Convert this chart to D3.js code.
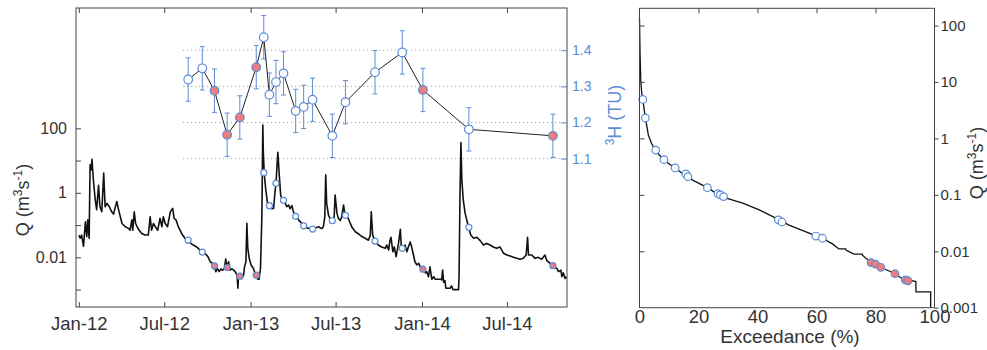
<!DOCTYPE html>
<html>
<head>
<meta charset="utf-8">
<script src="https://cdn.jsdelivr.net/npm/d3@7"></script>
<style>
  body { margin: 0; background: #fff; }
  text { font-family: "Liberation Sans", Arial, sans-serif; fill: #333; }
</style>
</head>
<body>
<script>
// daily discharge (days since 2012-01-01, m3/s)
const flowStart = "2012-01-01";
const flowDay = [
  0,3,6,10,14,17,19,22,24,26,28,31,35,38,42,45,49,53,56,60,65,70,74,77,81,84,92,99,106,109,113,115,118,121,127,134,141,148,152,155,159,163,168,173,177,180,184,189,195,200,203,207,212,219,226,231,237,244,251,
  262,269,275,280,285,288,292,295,299,303,306,310,313,315,319,322,326,330,333,337,339,340,347,351,353,356,358,360,363,367,372,376,381,384,387,390,392,393,395,398,402,405,411,415,418,420,424,427,430,434,440,443,447,450,454,457,461,464,469,475,479,486,493,499,505,511,515,
  518,521,524,526,528,532,535,540,544,546,550,553,557,560,564,567,574,582,589,596,603,610,617,621,623,626,631,638,645,653,656,660,663,665,669,672,676,681,685,687,690,695,699,702,706,709,713,716,720,724,729,734,738,741,745,748,752,756,759,766,771,
  773,775,777,780,782,791,794,797,809,810,812,814,816,819,823,830,835,841,848,855,862,869,876,883,890,897,905,912,919,926,933,940,947,953,956,958,965,972,979,986,993,997,1004,1011,1018,1022,1027,1029,1032,1036,1039
];
const flowQ = [
  0.049,0.039,0.049,0.022,0.126,0.044,0.145,0.039,7.4,5.1,11,2.5,0.60,0.30,1.7,0.37,0.26,4.1,0.37,0.47,0.37,0.26,0.22,0.33,0.54,0.33,0.112,0.089,0.079,0.069,0.145,0.069,0.26,0.112,0.074,0.055,0.049,0.049,0.18,0.069,0.112,0.089,0.069,0.162,0.089,0.18,0.112,0.089,0.26,0.33,0.162,0.145,0.089,0.055,0.039,0.034,0.028,0.024,0.021,
  0.0149,0.0132,0.0105,0.0073,0.0065,0.0055,0.0036,0.0045,0.0036,0.0044,0.0040,0.0044,0.0089,0.0048,0.0073,0.0040,0.0044,0.0040,0.0036,0.0028,0.0011,0.0025,0.0022,0.0028,0.0051,0.0073,0.113,0.019,0.0093,0.0058,0.0045,0.0030,0.0021,0.0021,0.0045,0.20,126,19,4.0,1.37,0.47,0.42,0.32,0.33,1.08,1.96,18,3.6,0.85,0.58,0.47,0.37,0.42,0.32,0.40,0.26,0.20,0.18,0.14,0.113,0.095,0.083,0.075,0.074,0.083,0.089,0.080,
  0.079,0.089,0.18,3.6,0.47,0.20,0.16,0.137,0.18,0.85,0.23,0.16,0.14,0.18,0.42,0.195,0.16,0.085,0.062,0.053,0.044,0.039,0.034,0.049,0.26,0.049,0.033,0.024,0.021,0.019,0.024,0.017,0.034,0.042,0.0149,0.021,0.0105,0.027,0.074,0.021,0.019,0.024,0.0149,0.021,0.030,0.021,0.0118,0.0073,0.0058,0.0065,0.0045,0.0051,0.0033,0.0036,0.0025,0.0051,0.0021,0.0025,0.0021,0.0021,0.0021,
  0.0020,0.0040,0.0017,0.0019,0.0011,0.0011,0.0013,0.0010,0.0010,0.0025,0.76,36,2.5,0.60,0.23,0.089,0.049,0.039,0.042,0.033,0.024,0.027,0.024,0.021,0.019,0.021,0.0133,0.0118,0.0110,0.0100,0.0093,0.0087,0.0093,0.0118,0.042,0.0118,0.0118,0.0093,0.0100,0.0087,0.0118,0.0079,0.0065,0.0051,0.0046,0.0036,0.0040,0.0025,0.0033,0.0022,0.0025
];

// tritium samples
const sampleDate = ["2012-08-21","2012-09-20","2012-10-16","2012-11-12","2012-12-09","2013-01-13","2013-01-29","2013-02-10","2013-02-24","2013-03-12",
  "2013-04-07","2013-04-24","2013-05-13","2013-06-24","2013-07-22","2013-09-23","2013-11-20","2014-01-03","2014-04-11","2014-10-07"];
const sampleQ = [0.034,0.0146,0.0054,0.0048,0.0026,0.0028,4.2,0.40,1.97,0.585,0.187,0.095,0.075,0.136,0.20,0.032,0.019,0.0043,0.085,0.0055];
const tritium = [1.319,1.350,1.288,1.166,1.214,1.353,1.436,1.277,1.312,1.336,1.232,1.243,1.263,1.163,1.256,1.339,1.394,1.290,1.181,1.163];
const tritiumErr = [0.06,0.06,0.06,0.06,0.06,0.06,0.06,0.06,0.06,0.06,0.06,0.06,0.06,0.06,0.06,0.06,0.06,0.06,0.06,0.06];
const sampleLow = [0,0,1,1,1,1,0,0,0,0,0,0,0,0,0,0,0,1,0,1];

// flow duration curve
const fdcExceed = [0,0.2,0.45,0.8,1.1,2.0,3.0,4.1,5.3,8.1,12.0,16.4,18.2,23.0,26.5,29.4,35.0,40.6,47.4,50.7,57.5,62.0,65.4,67.6,69.9,70.0,72.7,75.5,75.6,76.6,80.0,83.3,86.7,88.9,93.7,93.7,98.7,98.7];
const fdcQ = [134,30,10,6.0,4.9,2.3,1.15,0.81,0.62,0.42,0.30,0.205,0.18,0.134,0.103,0.087,0.071,0.054,0.036,0.029,0.021,0.017,0.0135,0.011,0.011,0.0105,0.0089,0.0089,0.0085,0.0076,0.0058,0.0048,0.0040,0.0033,0.0029,0.0019,0.0019,0.001];
const fdcSampleExceed = [1.1,2.0,5.5,8.3,12.1,15.7,16.4,23.0,26.6,27.4,28.5,47.1,48.3,59.8,62.0,78.5,80.0,81.8,86.6,90.1,91.0];
const fdcSampleQ = [4.9,2.3,0.62,0.42,0.30,0.235,0.21,0.134,0.105,0.100,0.093,0.036,0.033,0.0186,0.017,0.0063,0.0059,0.0052,0.0040,0.0031,0.0030];
const fdcSampleLow = [0,0,0,0,0,0,0,0,0,0,0,0,0,0,0,1,1,1,1,1,1];

// ticks
const dateTicks = ["2012-01-01","2012-07-01","2013-01-01","2013-07-01","2014-01-01","2014-07-01"];
const qTicks = [0.001,0.01,0.1,1,10,100];
const qLabels = ["","0.01","","1","","100"];
const tuTicks = [1.1,1.2,1.3,1.4];
const exTicks = [0,20,40,60,80,100];
const fdcQTicks = [0.001,0.01,0.1,1,10,100];
const fdcQLabels = ["0.001","0.01","0.1","1","10","100"];

const blue = "#5b8cd6", red = "#f07c7c", frame = "#444";
const parse = d3.timeParse("%Y-%m-%d");

const svg = d3.select("body").append("svg")
  .attr("width", 987)
  .attr("height", 350);

// ---- left panel ----
const x = d3.scaleTime().domain([parse("2011-12-26"), parse("2014-11-06")]).range([76, 567]);
const yQ = d3.scaleLog().domain([Math.pow(10, -3.54), Math.pow(10, 5.73)]).range([307, 8]);
const yT = d3.scaleLinear().domain([0.689, 1.517]).range([307, 8]);

const flow = flowDay.map((d, i) => ({ date: d3.timeDay.offset(parse(flowStart), d), q: flowQ[i] }));
const samples = sampleDate.map((d, i) => ({
  date: parse(d), q: sampleQ[i], t: tritium[i], e: tritiumErr[i], low: sampleLow[i]
}));

// dotted tritium grid
const gx0 = x(samples[0].date) - 5;
svg.append("g").selectAll("line")
  .data(tuTicks)
  .join("line")
  .attr("x1", gx0).attr("x2", 567)
  .attr("y1", d => yT(d)).attr("y2", d => yT(d))
  .attr("stroke", "#999").attr("stroke-width", 1).attr("stroke-dasharray", "1,3");

svg.append("path")
  .datum(flow)
  .attr("fill", "none")
  .attr("stroke", "#111")
  .attr("stroke-width", 1.6)
  .attr("stroke-linejoin", "round")
  .attr("d", d3.line().x(d => x(d.date)).y(d => yQ(d.q)));

svg.append("g").selectAll("circle")
  .data(samples)
  .join("circle")
  .attr("cx", d => x(d.date)).attr("cy", d => yQ(d.q)).attr("r", 3)
  .attr("fill", d => d.low ? red : "#fff")
  .attr("stroke", blue).attr("stroke-width", 1.2);

// tritium error bars, line, points
const eb = svg.append("g").attr("stroke", blue).attr("stroke-width", 1);
samples.forEach(d => {
  const cx = x(d.date);
  eb.append("line").attr("x1", cx).attr("x2", cx).attr("y1", yT(d.t - d.e)).attr("y2", yT(d.t + d.e));
  eb.append("line").attr("x1", cx - 2.5).attr("x2", cx + 2.5).attr("y1", yT(d.t - d.e)).attr("y2", yT(d.t - d.e));
  eb.append("line").attr("x1", cx - 2.5).attr("x2", cx + 2.5).attr("y1", yT(d.t + d.e)).attr("y2", yT(d.t + d.e));
});

svg.append("path")
  .datum(samples)
  .attr("fill", "none")
  .attr("stroke", "#222")
  .attr("stroke-width", 1)
  .attr("d", d3.line().x(d => x(d.date)).y(d => yT(d.t)));

svg.append("g").selectAll("circle")
  .data(samples)
  .join("circle")
  .attr("cx", d => x(d.date)).attr("cy", d => yT(d.t)).attr("r", 4.3)
  .attr("fill", d => d.low ? red : "#fff")
  .attr("stroke", blue).attr("stroke-width", 1.2);

// axes
const dt = dateTicks.map(parse);
const xb = svg.append("g").attr("transform", "translate(0,307)")
  .call(d3.axisBottom(x).tickValues(dt).tickSize(-5).tickPadding(10).tickFormat(d3.timeFormat("%b-%y")));
svg.append("g").attr("transform", "translate(0,8)")
  .call(d3.axisTop(x).tickValues(dt).tickSize(-5).tickFormat(""));
svg.append("g").attr("transform", "translate(76,0)")
  .call(d3.axisLeft(yQ).tickValues(qTicks).tickSize(-5).tickPadding(9).tickFormat((d, i) => qLabels[i]));
const ty = svg.append("g").attr("class", "tu").attr("transform", "translate(567,0)")
  .call(d3.axisRight(yT).tickValues(tuTicks).tickSize(-6).tickPadding(5).tickFormat(d3.format(".1f")));

// ---- right panel: flow duration curve ----
const xF = d3.scaleLinear().domain([0, 100]).range([639.5, 934.5]);
const yF = d3.scaleLog().domain([0.001, 202]).range([307.7, 8.3]);

const fdc = fdcExceed.map((d, i) => ({ p: d, q: fdcQ[i] }));
const fdcPts = fdcSampleExceed.map((d, i) => ({ p: d, q: fdcSampleQ[i], low: fdcSampleLow[i] }));

svg.append("path")
  .datum(fdc)
  .attr("fill", "none")
  .attr("stroke", "#111")
  .attr("stroke-width", 1.3)
  .attr("d", d3.line().x(d => xF(d.p)).y(d => yF(d.q)));

svg.append("g").selectAll("circle")
  .data(fdcPts)
  .join("circle")
  .attr("cx", d => xF(d.p)).attr("cy", d => yF(d.q)).attr("r", 3.8)
  .attr("fill", d => d.low ? red : "#fff")
  .attr("stroke", blue).attr("stroke-width", 1.2);

const fb = svg.append("g").attr("transform", "translate(0,307.7)")
  .call(d3.axisBottom(xF).tickValues(exTicks).tickSize(0).tickPadding(2));
svg.append("g").attr("transform", "translate(0,8.3)")
  .call(d3.axisTop(xF).tickValues(exTicks.slice(1, -1)).tickSize(-5).tickFormat(""));
svg.append("g").attr("transform", "translate(639.5,0)")
  .call(d3.axisLeft(yF).tickValues(fdcQTicks.slice(1)).tickSize(-5).tickFormat(""));
const fr = svg.append("g").attr("transform", "translate(934.5,0)")
  .call(d3.axisRight(yF).tickValues(fdcQTicks).tickSize(4).tickPadding(2).tickFormat((d, i) => fdcQLabels[i]));

// axis styling
svg.selectAll(".domain").remove();
svg.selectAll(".tick line").style("stroke", frame);
svg.selectAll(".tick text").style("font-size", "16px").style("fill", "#333");
xb.selectAll(".tick text").style("font-size", "18.5px");
fb.selectAll(".tick text").style("font-size", "18.5px");
fr.selectAll(".tick text").style("font-size", "15px");
ty.selectAll(".tick line").style("stroke", blue);
ty.selectAll(".tick text").style("font-size", "14px").style("fill", blue);

svg.append("rect").attr("x", 76).attr("y", 8).attr("width", 491).attr("height", 299)
  .attr("fill", "none").attr("stroke", frame).attr("stroke-width", 1);
svg.append("rect").attr("x", 639.5).attr("y", 8.3).attr("width", 295).attr("height", 299.4)
  .attr("fill", "none").attr("stroke", frame).attr("stroke-width", 1);

// axis titles
function qLabel(tx, ty0) {
  const t = svg.append("text").attr("transform", `translate(${tx},${ty0}) rotate(-90)`)
    .attr("text-anchor", "middle").style("font-size", "18px");
  t.append("tspan").text("Q (m");
  t.append("tspan").attr("dy", -7).style("font-size", "12px").text("3");
  t.append("tspan").attr("dy", 7).text("s");
  t.append("tspan").attr("dy", -7).style("font-size", "12px").text("-1");
  t.append("tspan").attr("dy", 7).text(")");
}
qLabel(29, 200);
qLabel(983, 163);

const tl = svg.append("text").attr("transform", "translate(621,115) rotate(-90)")
  .attr("text-anchor", "middle").style("font-size", "18px").style("fill", blue);
tl.append("tspan").attr("dy", -7).style("font-size", "12px").style("fill", blue).text("3");
tl.append("tspan").attr("dy", 7).style("fill", blue).text("H (TU)");

svg.append("text").attr("x", 790).attr("y", 343).attr("text-anchor", "middle")
  .style("font-size", "19px").text("Exceedance (%)");
</script>
</body>
</html>
